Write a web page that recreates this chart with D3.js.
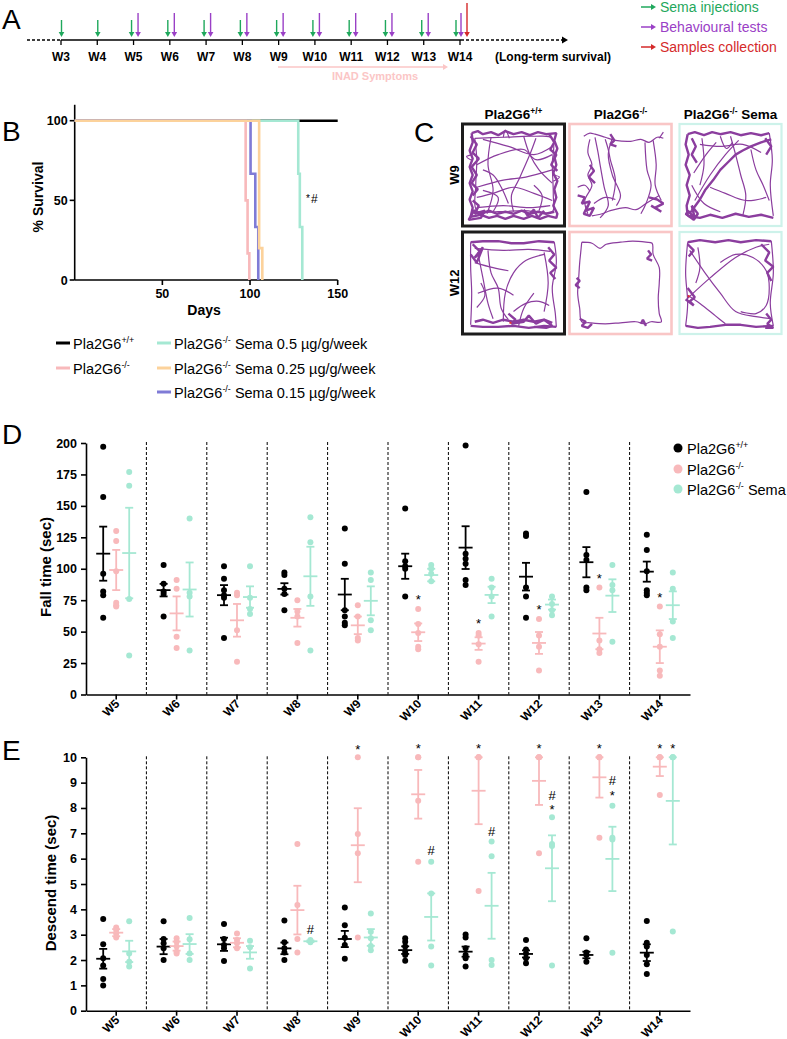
<!DOCTYPE html>
<html><head><meta charset="utf-8">
<script src="https://cdn.jsdelivr.net/npm/d3@7"></script>
<style>body{margin:0;background:#fff}svg{display:block}text{font-family:"Liberation Sans",Arial,sans-serif}</style>
</head><body>
<svg id="c" width="787" height="1039"></svg>
<script>
// ---------------- DATA ----------------
const weeksA = ["W3","W4","W5","W6","W7","W8","W9","W10","W11","W12","W13","W14"];
const semaWeeks = weeksA;
const testWeeks = ["W5","W6","W7","W8","W9","W10","W11","W12","W13","W14"];
const sampleWeeks = ["W14"];

// Survival (day, % survival) step events
const survWT = [[0,100],[150,100]];
const survKO = [[0,100],[97.5,50],[98.6,16.7],[99.6,0]];
const surv05 = [[0,100],[127.5,66.7],[128.4,33.3],[129.8,0]];
const surv025 = [[0,100],[105.2,20],[107,0]];
const surv015 = [[0,100],[100.3,66.7],[103,33.3],[104.7,0]];
const survTicksX = [50,100,150];
const survTicksY = [0,50,100];

const weeks = ["W5","W6","W7","W8","W9","W10","W11","W12","W13","W14"];

// Fall time (sec)
const fallWT = [[197,157,96,82,79,61],[103,88,82,80,62],[102,92,83,79,77,45],[97,95,84,80,67],[132,104,67,62,57,55],
  [148,106,102,100,78],[198,112,108,104,91,87],[128,126,85,78,61],[161,111,107,85,83],[127,115,98,83,81,79]];
const fallKO = [[130,122,98,73,71,70],[91,84,46,37],[81,79,51,26],[75,66,62,41],[71,62,45,43],
  [68,56,49,38,36],[49,47,40,26],[60,47,38,19],[85,43,36,33],[70,48,38,19,15]];
const fallSema = [[177,166,76,31],[140,81,78,35],[102,77,68,64],[141,121,78,35],[97,91,59,51],
  [103,100,96,90],[92,85,78,62],[78,72,67,63],[103,87,83,42],[97,84,58,45]];
const fallWTMean = [112,83,79,84,79.5,102,116.8,93.7,105.2,97.7];
const fallWTSem = [21.5,5,8,4.5,12.5,10,17,11,12,8];
const fallKOMean = [99,64.5,59,61,55,49.5,40.5,41,48.5,38];
const fallKOSem = [16,13.5,13,7,7,7,5,8.7,12.5,13];
const fallSemaMean = [112.5,83.5,77.5,94,74.5,95,79.2,71.5,78.6,71];
const fallSemaSem = [36,21.5,8.5,23.5,11.5,5,6.5,4,13,11];
const fallTicks = [0,25,50,75,100,125,150,175,200];
const fallNotes = [["W10","ko",78,"*"],["W11","ko",58.5,"*"],["W12","ko",69.4,"*"],["W13","ko",94,"*"],["W14","ko",79,"*"]];

// Descend time (sec)
const descWT = [[3.62,2.62,2.07,1.78,1.25,0.99],[3.53,2.83,2.66,2.46,2.0],[3.42,2.83,2.59,2.46,1.96],[3.56,2.70,2.46,2.3,2.0],
  [4.07,3.37,2.88,2.59,2.05],[2.86,2.72,2.53,2.33,2.2,1.97],[3.01,2.89,2.46,2.2,2.07,1.74],[2.79,2.42,2.26,2.07,1.87],
  [2.86,2.3,2.2,1.93],[3.54,2.68,2.53,2.2,1.83,1.45]];
const descKO = [[3.28,3.18,3.05,2.89],[2.86,2.72,2.53,2.33,2.26],[3.05,2.79,2.66,2.46],[6.58,4.17,2.83,2.3],[10,6.97,6.21,2.89],
  [10,10,8.29,5.88],[10,10,10,4.72],[10,10,10,6.21],[10,10,10,6.83],[10,10,10,8.51]];
const descSema = [[3.53,2.26,1.93,1.74],[3.66,2.82,2.26,2.0],[2.76,2.5,1.67],[2.79,2.74,2.70],[3.84,3.12,2.86,2.55,2.39],
  [5.88,4.63,2.53,1.78],[6.68,6.1,2.0,1.8],[7.63,6.58,6.5,1.78],[8.09,6.83,6.76,2.29],[10,10,10,3.13]];
const descWTMean = [2.05,2.53,2.62,2.46,2.83,2.39,2.33,2.24,2.2,2.29];
const descWTSem = [0.39,0.3,0.26,0.23,0.32,0.15,0.2,0.14,0.13,0.33];
const descKOMean = [3.08,2.55,2.68,3.97,6.53,8.54,8.68,9.07,9.21,9.63];
const descKOSem = [0.14,0.18,0.18,0.96,1.46,0.96,1.32,0.95,0.8,0.37];
const descSemaMean = [2.34,2.63,2.3,2.74,2.89,3.7,4.14,5.62,5.99,8.28];
const descSemaSem = [0.42,0.39,0.25,0.03,0.33,0.93,1.3,1.3,1.27,1.72];
const descTicks = [0,1,2,3,4,5,6,7,8,9,10];
const descNotes = [["W8","sema",3.22,"#"],["W9","ko",10.4,"*"],["W10","ko",10.45,"*"],["W10","sema",6.34,"#"],
  ["W11","ko",10.45,"*"],["W11","sema",7.07,"#"],["W12","ko",10.45,"*"],["W12","sema",8.05,"*"],["W12","sema",8.51,"#"],
  ["W13","ko",10.45,"*"],["W13","sema",8.6,"*"],["W13","sema",9.08,"#"],["W14","ko",10.45,"*"],["W14","sema",10.45,"*"]];

// Open-field tracks (0-100 arena units); "wall" = dense wall-hugging segments
const wallWT9 = [
 [[9,9],[15,7],[20,10],[28,8],[35,11],[42,7],[50,10],[58,8],[66,11],[74,8],[82,10],[92,9],[90,16],[93,24],[90,32],[92,40],[89,48],[93,56],[90,64],[92,72],[89,80],[93,88],[92,92],[84,90],[76,93],[68,90],[60,93],[50,90],[42,93],[34,90],[26,92],[18,89],[8,91],[10,82],[7,74],[10,66],[7,58],[10,50],[7,42],[10,34],[7,26],[10,18],[9,9]],
 [[10,86],[18,88],[26,85],[34,88],[42,86],[50,88],[58,85],[66,88],[74,86],[82,88],[90,86]],
 [[8,12],[14,20],[10,28],[16,34],[9,42],[14,50],[9,58],[15,64],[10,70]],
 [[10,75],[16,80],[12,88],[22,85],[18,92],[6,94],[12,84]],
 [[85,10],[90,18],[86,25],[92,30],[87,40],[93,46]],
 [[60,84],[64,90],[70,84],[74,92],[80,85]]];
const trackWT9 = [
 [[12,14],[40,13],[70,12],[88,14],[88,40],[89,70],[88,86],[60,85],[35,86],[14,85],[13,60],[14,35],[12,14]],
 [[14,82],[40,80],[65,82],[86,80]],
 [[28,13],[25,40],[30,65],[24,88]],
 [[14,40],[35,30],[60,25],[72,35],[88,30]],
 [[20,15],[45,22],[70,30],[88,22]],
 [[60,12],[66,30],[75,45],[88,58]],
 [[14,62],[40,55],[62,52],[88,45]],
 [[14,72],[30,68],[50,62],[70,68],[88,75]],
 [[50,86],[48,70],[55,55],[66,30],[72,14]],
 [[30,86],[35,72],[20,65]],
 [[75,85],[78,70],[70,60]],
 [[40,13],[42,6],[46,14]],
 [[88,50],[95,52],[89,56]],
 [[10,30],[4,32],[10,36]],
 [[20,45],[30,50],[38,62],[45,78]]];
const wallKO9 = [
 [[8,70],[15,72],[12,78],[20,76],[16,85],[24,82],[20,90],[14,88],[18,80]],
 [[78,72],[86,74],[92,78],[84,82],[90,86],[80,80]],
 [[40,10],[44,16],[40,20],[46,22]],
 [[20,40],[24,46],[19,52],[25,58]]];
const trackKO9 = [
 [[14,12],[20,9],[25,10],[35,13],[45,16],[60,17],[70,15],[78,18],[86,13],[92,14]],
 [[20,15],[18,28],[22,40],[18,50],[22,60],[15,75],[18,88]],
 [[25,13],[28,28],[30,40],[34,62],[38,80],[30,92]],
 [[35,15],[38,25],[40,35],[45,55],[42,75]],
 [[42,14],[38,30],[42,50],[50,70],[46,80]],
 [[22,90],[32,88],[40,85],[55,82],[65,84],[75,78],[88,70]],
 [[74,18],[76,45],[80,60],[75,78],[70,88]],
 [[82,16],[85,40],[84,60],[90,75]],
 [[24,78],[35,72],[45,74]],
 [[88,14],[92,8]],
 [[8,62],[15,60],[20,66]]];
const wallSema9 = [
 [[8,10],[15,8],[24,11],[32,8],[40,10],[50,8],[60,11],[70,9],[80,11],[88,9]],
 [[8,10],[6,20],[9,30],[6,40],[10,50],[7,60],[10,70],[7,80],[8,90]],
 [[8,90],[20,92],[30,89],[42,92],[55,88],[68,91],[80,89],[92,92]],
 [[12,85],[20,74],[25,65],[33,55],[40,45],[48,37],[55,30],[62,26],[70,22],[80,18],[90,15]],
 [[8,85],[15,92],[12,80],[18,88],[14,94],[6,88],[16,84]],
 [[12,14],[16,22],[12,30],[17,38]],
 [[84,14],[90,22],[85,30]]];
const trackSema9 = [
 [[88,9],[91,35],[89,60],[92,90]],
 [[15,75],[30,50],[45,30],[58,16]],
 [[20,20],[40,22],[62,20],[80,28]],
 [[50,12],[55,30],[60,50],[65,70],[62,90]],
 [[30,62],[45,68],[65,75],[85,72]],
 [[70,25],[75,45],[82,60],[88,75]],
 [[22,14],[24,40],[20,60]],
 [[12,60],[24,78],[40,86]],
 [[14,48],[26,30],[36,18]],
 [[40,12],[46,24],[52,18]]];
const wallWT12 = [
 [[10,12],[18,20],[12,25],[20,15],[14,30],[8,22]],
 [[84,15],[90,22],[85,28],[92,35],[86,40],[91,46]],
 [[12,88],[20,86],[30,89],[40,86],[50,88],[60,86],[70,88],[80,86],[88,89]],
 [[45,80],[52,86],[48,90],[60,88],[65,82],[72,90],[80,86],[88,92],[82,94],[70,93]],
 [[8,10],[20,9],[35,9],[48,11],[60,11],[75,9],[90,10]],
 [[8,92],[20,93],[35,93],[50,92],[65,94],[80,92],[92,93]]];
const trackWT12 = [
 [[8,10],[8,35],[9,60],[8,91]],
 [[92,93],[91,80],[88,55],[92,30],[90,10]],
 [[12,16],[40,18],[65,17],[86,19]],
 [[40,88],[42,60],[50,40],[62,28],[80,22]],
 [[15,20],[20,45],[25,70],[30,85]],
 [[25,18],[28,40],[35,55],[38,75],[45,86]],
 [[12,30],[30,35],[45,38]],
 [[15,60],[35,55],[50,62]],
 [[50,78],[62,70],[75,68],[85,72]],
 [[80,20],[84,50],[80,78]],
 [[55,92],[60,75],[70,60]],
 [[18,50],[22,62],[14,74]]];
const wallKO12 = [
 [[7,45],[10,48],[6,52],[10,55]],
 [[77,18],[80,22],[76,26],[81,28]],
 [[10,85],[16,88],[12,92],[18,94],[22,90]],
 [[70,90],[72,86],[75,92]]];
const trackKO12 = [
 [[12,10],[22,11],[30,16],[36,12],[50,10],[62,9],[75,10],[81,11],[82,22],[88,35],[88,50],[87,65],[88,80],[90,88],[80,88],[74,90],[65,88],[50,89],[35,90],[20,89],[12,88],[10,75],[8,60],[9,45],[10,30],[11,20],[12,10]]];
const wallSema12 = [
 [[8,10],[20,8],[35,10],[48,8],[60,10],[75,8],[90,9]],
 [[6,92],[18,94],[30,93],[45,91],[60,91],[75,93],[92,92]],
 [[80,12],[88,20],[84,28],[92,34],[86,40],[90,48]],
 [[85,80],[90,86],[86,90],[92,94],[84,94]],
 [[8,55],[15,64],[10,68],[14,72],[6,66]],
 [[8,12],[14,18],[9,24]]];
const trackSema12 = [
 [[8,10],[6,40],[8,70],[6,92]],
 [[90,9],[92,40],[89,70],[92,92]],
 [[8,65],[30,45],[55,25],[75,15],[88,12]],
 [[10,18],[25,40],[40,60],[55,78],[75,83],[90,85]],
 [[40,30],[55,22],[72,25],[85,38],[88,55],[85,72],[75,80],[60,78]],
 [[8,62],[20,70],[35,82],[45,90]],
 [[18,15],[20,35],[16,50]]];
const redWT12 = [[47,89]];
const redSema12 = [[9,63]];

// ---------------- DRAWING ----------------
const svg = d3.select("#c");
const C = {wt:"#000", ko:"#f8b9bb", sema:"#a5e8d3", o025:"#fcd29b", p015:"#7f7bd6",
  green:"#1fa85c", purple:"#9a40c6", red:"#d52a2a", inad:"#fbc6c6", track:"#8b3d9e"};

function rich(g, x, y, parts, size, weight, fill, anchor) {
  const t = g.append("text").attr("x", x).attr("y", y).attr("font-size", size)
    .attr("font-weight", weight || "normal").attr("fill", fill || "#000").attr("text-anchor", anchor || "start");
  let up = false;
  parts.forEach(p => {
    const ts = t.append("tspan").text(p[0]);
    if (p[1]) { ts.attr("font-size", size * 0.62).attr("dy", -size * 0.38); up = true; }
    else if (up) { ts.attr("dy", size * 0.38); up = false; }
  });
  return t;
}
const WTL = [["Pla2G6"],["+/+",1]];
const KOL = [["Pla2G6"],["-/-",1]];

// Panel letters
[["A",2,29],["B",2,141],["C",414,142],["D",2,444],["E",2,760]].forEach(d =>
  svg.append("text").attr("x", d[1]).attr("y", d[2]).attr("font-size", 28).text(d[0]));

// ---------- Panel A ----------
const gA = svg.append("g");
const xA = d3.scalePoint().domain(weeksA).range([61, 460]);
const yT = 40;
gA.append("line").attr("x1", 27).attr("x2", 61).attr("y1", yT).attr("y2", yT).attr("stroke", "#000").attr("stroke-width", 1.3).attr("stroke-dasharray", "3,2");
gA.append("line").attr("x1", 61).attr("x2", 461).attr("y1", yT).attr("y2", yT).attr("stroke", "#000").attr("stroke-width", 1.5);
gA.append("line").attr("x1", 461).attr("x2", 563).attr("y1", yT).attr("y2", yT).attr("stroke", "#000").attr("stroke-width", 1.3).attr("stroke-dasharray", "3,2");
gA.append("path").attr("d", "M562,36.5L568,40L562,43.5Z").attr("fill", "#000");
weeksA.forEach(w => {
  gA.append("line").attr("x1", xA(w)).attr("x2", xA(w)).attr("y1", yT).attr("y2", yT + 5).attr("stroke", "#000").attr("stroke-width", 1.3);
  gA.append("text").attr("x", xA(w)).attr("y", 61).attr("text-anchor", "middle").attr("font-size", 12).attr("font-weight", "bold").text(w);
});
gA.append("text").attr("x", 553).attr("y", 61).attr("text-anchor", "middle").attr("font-size", 12).attr("font-weight", "bold").text("(Long-term survival)");
function vArrow(g, x, y0, y1, col) {
  g.append("line").attr("x1", x).attr("x2", x).attr("y1", y0).attr("y2", y1 - 4).attr("stroke", col).attr("stroke-width", 1.4);
  g.append("path").attr("d", `M${x-2.8},${y1-5}L${x+2.8},${y1-5}L${x},${y1}Z`).attr("fill", col);
}
function hArrow(g, x0, x1, y, col) {
  g.append("line").attr("x1", x0).attr("x2", x1 - 4).attr("y1", y).attr("y2", y).attr("stroke", col).attr("stroke-width", 1.5);
  g.append("path").attr("d", `M${x1-5},${y-3}L${x1-5},${y+3}L${x1},${y}Z`).attr("fill", col);
}
semaWeeks.forEach(w => {
  const off = w === "W14" ? -4 : (testWeeks.includes(w) ? -2 : 0.5);
  vArrow(gA, xA(w) + off, 20, 37, C.green);
});
testWeeks.forEach(w => vArrow(gA, xA(w) + (w === "W14" ? 1 : 4.5), 13, 37, C.purple));
sampleWeeks.forEach(w => vArrow(gA, xA(w) + 7, 3, 37, C.red));
hArrow(gA, 278, 448, 67, C.inad);
gA.append("text").attr("x", 375).attr("y", 80).attr("text-anchor", "middle").attr("font-size", 11).attr("font-weight", "bold").attr("fill", C.inad).text("INAD Symptoms");
[["Sema injections", C.green, 7], ["Behavioural tests", C.purple, 27], ["Samples collection", C.red, 47]].forEach(d => {
  hArrow(gA, 641, 656, d[2], d[1]);
  gA.append("text").attr("x", 660).attr("y", d[2] + 5).attr("font-size", 14).attr("fill", d[1]).text(d[0]);
});

// ---------- Panel B ----------
const gB = svg.append("g");
const xB = d3.scaleLinear().domain([0, 150]).range([74.7, 337.7]);
const yB = d3.scaleLinear().domain([0, 100]).range([280, 120.7]);
gB.append("line").attr("x1", xB(0)).attr("x2", xB(0)).attr("y1", yB(0)).attr("y2", yB(110)).attr("stroke", "#000").attr("stroke-width", 1.6);
gB.append("line").attr("x1", xB(0)).attr("x2", xB(150)).attr("y1", yB(0)).attr("y2", yB(0)).attr("stroke", "#000").attr("stroke-width", 1.6);
survTicksY.forEach(v => {
  gB.append("line").attr("x1", xB(0) - 5).attr("x2", xB(0)).attr("y1", yB(v)).attr("y2", yB(v)).attr("stroke", "#000").attr("stroke-width", 1.6);
  gB.append("text").attr("x", xB(0) - 7).attr("y", yB(v) + 4.5).attr("text-anchor", "end").attr("font-size", 12.5).attr("font-weight", "bold").text(v);
});
survTicksX.forEach(v => {
  gB.append("line").attr("x1", xB(v)).attr("x2", xB(v)).attr("y1", yB(0)).attr("y2", yB(0) + 5).attr("stroke", "#000").attr("stroke-width", 1.6);
  gB.append("text").attr("x", xB(v)).attr("y", yB(0) + 18).attr("text-anchor", "middle").attr("font-size", 12.5).attr("font-weight", "bold").text(v);
});
gB.append("text").attr("x", 204).attr("y", 315).attr("text-anchor", "middle").attr("font-size", 14).attr("font-weight", "bold").text("Days");
gB.append("text").attr("transform", "translate(43,197) rotate(-90)").attr("text-anchor", "middle").attr("font-size", 14).attr("font-weight", "bold").text("% Survival");
const lineB = d3.line().x(d => xB(d[0])).y(d => yB(d[1])).curve(d3.curveStepAfter);
[[survWT, C.wt], [surv05, C.sema], [survKO, C.ko], [surv015, C.p015], [surv025, C.o025]].forEach(s =>
  gB.append("path").attr("d", lineB(s[0])).attr("fill", "none").attr("stroke", s[1]).attr("stroke-width", 2.6));
gB.append("text").attr("x", 306).attr("y", 202).attr("font-size", 10).text("*");
gB.append("text").attr("x", 311).attr("y", 203).attr("font-size", 12).text("#");
// Legend B
const legB = [
  [56, 343, C.wt, WTL],
  [56, 368, C.ko, KOL],
  [157, 343, C.sema, KOL.concat([[" Sema 0.5 µg/g/week"]])],
  [157, 368, C.o025, KOL.concat([[" Sema 0.25 µg/g/week"]])],
  [157, 392, C.p015, KOL.concat([[" Sema 0.15 µg/g/week"]])]];
legB.forEach(d => {
  gB.append("line").attr("x1", d[0]).attr("x2", d[0] + 14).attr("y1", d[1]).attr("y2", d[1]).attr("stroke", d[2]).attr("stroke-width", 3);
  rich(gB, d[0] + 17, d[1] + 5.5, d[3], 14.5, "normal", "#000");
});

// ---------- Panel C ----------
const gC = svg.append("g");
const colX = [462.5, 569.5, 679.5], rowY = [124, 232], bs = 102;
const boxCol = [["#1c1c1c", 3], ["#f9c6c6", 2.6], ["#cdf2ea", 2.2]];
const colTitles = [WTL, KOL, KOL.concat([[" Sema"]])];
colTitles.forEach((t, i) => rich(gC, colX[i] + bs / 2, 119, t, 13.5, "bold", "#000", "middle"));
[["W9", 0], ["W12", 1]].forEach(d =>
  gC.append("text").attr("transform", `translate(${colX[0] - 4},${rowY[d[1]] + bs / 2}) rotate(-90)`).attr("text-anchor", "middle").attr("font-size", 13).attr("font-weight", "bold").text(d[0]));
const boxes = [
  [0, 0, wallWT9, trackWT9, []], [1, 0, wallKO9, trackKO9, []], [2, 0, wallSema9, trackSema9, []],
  [0, 1, wallWT12, trackWT12, redWT12], [1, 1, wallKO12, trackKO12, []], [2, 1, wallSema12, trackSema12, redSema12]];
boxes.forEach(b => {
  const x0 = colX[b[0]], y0 = rowY[b[1]];
  const sx = d3.scaleLinear().domain([0, 100]).range([x0, x0 + bs]);
  const sy = d3.scaleLinear().domain([0, 100]).range([y0, y0 + bs]);
  const lnCurve = d3.line().x(d => sx(d[0])).y(d => sy(d[1])).curve(d3.curveCatmullRom.alpha(0.5));
  const ln = d3.line().x(d => sx(d[0])).y(d => sy(d[1]));
  b[3].forEach(p => gC.append("path").attr("d", lnCurve(p)).attr("fill", "none").attr("stroke", C.track).attr("stroke-width", 1.2));
  b[2].forEach(p => gC.append("path").attr("d", ln(p)).attr("fill", "none").attr("stroke", C.track).attr("stroke-width", 2.4).attr("stroke-linejoin", "bevel"));
  b[4].forEach(p => gC.append("rect").attr("x", sx(p[0]) - 1).attr("y", sy(p[1]) - 1).attr("width", 2).attr("height", 2).attr("fill", "#e53030"));
  gC.append("rect").attr("x", x0).attr("y", y0).attr("width", bs).attr("height", bs).attr("fill", "none")
    .attr("stroke", boxCol[b[0]][0]).attr("stroke-width", boxCol[b[0]][1]);
});

// ---------- Panels D & E ----------
const xCat = d3.scaleBand().domain(weeks).range([86, 690]);
const gOff = {wt: -13, ko: 0, sema: 13};
const gCol = {wt: C.wt, ko: C.ko, sema: C.sema};

function dotPanel(o) {
  const g = svg.append("g");
  const y = d3.scaleLinear().domain(o.domain).range([o.bottom, o.top]);
  weeks.slice(1).forEach(w => g.append("line").attr("x1", xCat(w)).attr("x2", xCat(w)).attr("y1", o.top - 1).attr("y2", o.bottom)
    .attr("stroke", "#000").attr("stroke-width", 1).attr("stroke-dasharray", "3,2"));
  const ay = g.append("g").attr("transform", `translate(86,0)`).call(d3.axisLeft(y).tickValues(o.ticks).tickSize(5).tickSizeOuter(0));
  ay.select(".domain").attr("stroke-width", 1.6);
  ay.selectAll(".tick line").attr("stroke-width", 1.6);
  ay.selectAll(".tick text").attr("font-size", 12.5).attr("font-weight", "bold").attr("font-family", "Liberation Sans, Arial, sans-serif").attr("fill", "#000").attr("dx", "-1");
  const ax = g.append("g").attr("transform", `translate(0,${o.bottom})`).call(d3.axisBottom(xCat).tickSize(5).tickSizeOuter(0));
  ax.select(".domain").attr("stroke-width", 1.6);
  ax.selectAll(".tick line").attr("stroke-width", 1.6);
  ax.selectAll(".tick text").remove();
  weeks.forEach(w => {
    const cx = xCat(w) + xCat.bandwidth() / 2;
    g.append("text").attr("transform", `translate(${cx + 4},${o.bottom + 10}) rotate(-45)`).attr("text-anchor", "end")
      .attr("font-size", 12).attr("font-weight", "bold").text(w);
  });
  g.append("text").attr("transform", `translate(${o.titleX},${o.titleY}) rotate(-90)`).attr("text-anchor", "middle")
    .attr("font-size", 15).attr("font-weight", "bold").text(o.title);
  o.groups.forEach(gr => {
    const col = gCol[gr.key];
    weeks.forEach((w, i) => {
      const cx = xCat(w) + xCat.bandwidth() / 2 + gOff[gr.key];
      gr.pts[i].forEach(v => g.append("circle").attr("cx", cx).attr("cy", y(v)).attr("r", 3).attr("fill", col));
    });
    weeks.forEach((w, i) => {
      const cx = xCat(w) + xCat.bandwidth() / 2 + gOff[gr.key];
      const m = gr.mean[i], s = gr.sem[i];
      const lo = y(m - s), hi = y(Math.min(m + s, o.domain[1]));
      const sw = 1.8;
      g.append("line").attr("x1", cx).attr("x2", cx).attr("y1", lo).attr("y2", hi).attr("stroke", col).attr("stroke-width", sw);
      g.append("line").attr("x1", cx - 4).attr("x2", cx + 4).attr("y1", lo).attr("y2", lo).attr("stroke", col).attr("stroke-width", sw);
      g.append("line").attr("x1", cx - 4).attr("x2", cx + 4).attr("y1", hi).attr("y2", hi).attr("stroke", col).attr("stroke-width", sw);
      g.append("line").attr("x1", cx - 7).attr("x2", cx + 7).attr("y1", y(m)).attr("y2", y(m)).attr("stroke", col).attr("stroke-width", sw);
    });
  });
  o.notes.forEach(n => {
    const cx = xCat(n[0]) + xCat.bandwidth() / 2 + gOff[n[1]];
    const fs = 13;
    const base = y(n[2]) + (n[3] === "*" ? 0.55 * fs : 0.36 * fs);
    g.append("text").attr("x", cx).attr("y", base).attr("text-anchor", "middle").attr("font-size", fs).text(n[3]);
  });
}

dotPanel({domain: [0, 200], top: 443, bottom: 694.5, ticks: fallTicks, title: "Fall time (sec)", titleX: 51, titleY: 567,
  groups: [{key: "wt", pts: fallWT, mean: fallWTMean, sem: fallWTSem}, {key: "ko", pts: fallKO, mean: fallKOMean, sem: fallKOSem},
    {key: "sema", pts: fallSema, mean: fallSemaMean, sem: fallSemaSem}], notes: fallNotes});
dotPanel({domain: [0, 10], top: 757.3, bottom: 1010.7, ticks: descTicks, title: "Descend time (sec)", titleX: 56, titleY: 883,
  groups: [{key: "wt", pts: descWT, mean: descWTMean, sem: descWTSem}, {key: "ko", pts: descKO, mean: descKOMean, sem: descKOSem},
    {key: "sema", pts: descSema, mean: descSemaMean, sem: descSemaSem}], notes: descNotes});

// Legend D
const gL = svg.append("g");
[[448, C.wt, WTL], [469, C.ko, KOL], [489, C.sema, KOL.concat([[" Sema"]])]].forEach(d => {
  gL.append("circle").attr("cx", 678).attr("cy", d[0]).attr("r", 4.5).attr("fill", d[1]);
  rich(gL, 687, d[0] + 5.5, d[2], 14.5, "normal", "#000");
});
</script></body></html>
